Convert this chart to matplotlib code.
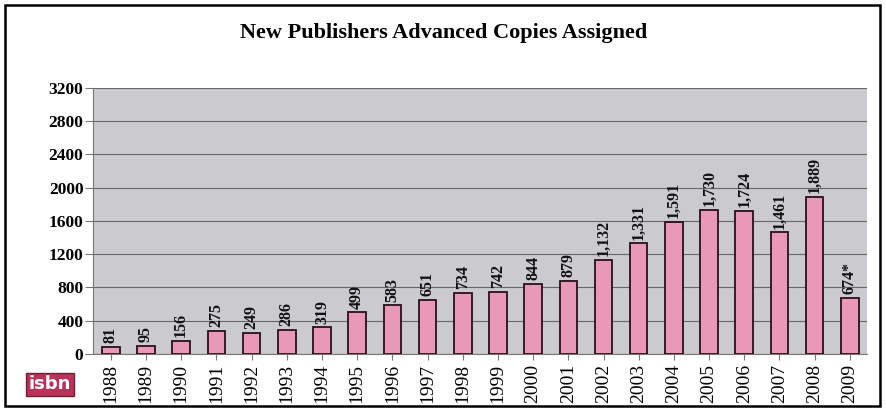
import matplotlib
matplotlib.use("Agg")
import matplotlib.pyplot as plt
from matplotlib.patches import Rectangle

years = ["1988", "1989", "1990", "1991", "1992", "1993", "1994", "1995", "1996", "1997", "1998",
         "1999", "2000", "2001", "2002", "2003", "2004", "2005", "2006", "2007", "2008", "2009"]
values = [81, 95, 156, 275, 249, 286, 319, 499, 583, 651, 734,
          742, 844, 879, 1132, 1331, 1591, 1730, 1724, 1461, 1889, 674]
value_labels = ["81", "95", "156", "275", "249", "286", "319", "499", "583", "651", "734",
                "742", "844", "879", "1,132", "1,331", "1,591", "1,730", "1,724", "1,461", "1,889", "674*"]
yticks = [0, 400, 800, 1200, 1600, 2000, 2400, 2800, 3200]

plt.rcParams['font.family'] = ['Liberation Serif', 'DejaVu Serif']

fig = plt.figure(figsize=(8.87, 4.11), dpi=100)
fig.patch.set_facecolor("white")
ax = fig.add_axes([0.105, 0.139, 0.873, 0.647])
ax.set_facecolor("#cbcbcf")

x = list(range(len(years)))
ax.bar(x, values, width=0.5, color="#e899b5", edgecolor="#2a1018", linewidth=1.3, zorder=3)

for xi, v, lab in zip(x, values, value_labels):
    ax.text(xi, v + 45, lab, rotation=90, ha="center", va="bottom",
            fontsize=11.5, fontweight="bold", color="#111111", zorder=4)

ax.set_xlim(-0.5, len(years) - 0.5)
ax.set_ylim(0, 3200)
ax.set_yticks(yticks)
ax.set_yticklabels([str(t) for t in yticks], fontsize=12.5, fontweight="bold")
ax.set_xticks(x)
ax.set_xticklabels(years, rotation=90, fontsize=14)
ax.yaxis.grid(True, color="#666666", linewidth=0.8, zorder=1)
ax.set_axisbelow(True)
for s in ["top", "right"]:
    ax.spines[s].set_visible(False)
ax.spines["left"].set_color("#777777")
ax.spines["bottom"].set_color("#777777")
ax.tick_params(axis="y", length=6, color="#777777", pad=1)
ax.tick_params(axis="x", length=4, color="#777777", pad=3)

fig.text(0.50, 0.92, "New Publishers Advanced Copies Assigned", ha="center", va="center",
         fontsize=16, fontweight="bold")

# outer frame
fig.patches.append(Rectangle((0.006, 0.012), 0.986, 0.975, transform=fig.transFigure,
                             fill=False, edgecolor="black", linewidth=1.8))

# isbn logo
fig.text(0.056, 0.065, "isbn", ha="center", va="center", fontsize=13, fontweight="bold",
         color="white", family="DejaVu Sans",
         bbox=dict(boxstyle="square,pad=0.15", facecolor="#b8325a", edgecolor="#702030"))

fig.savefig("out.png", dpi=100)
